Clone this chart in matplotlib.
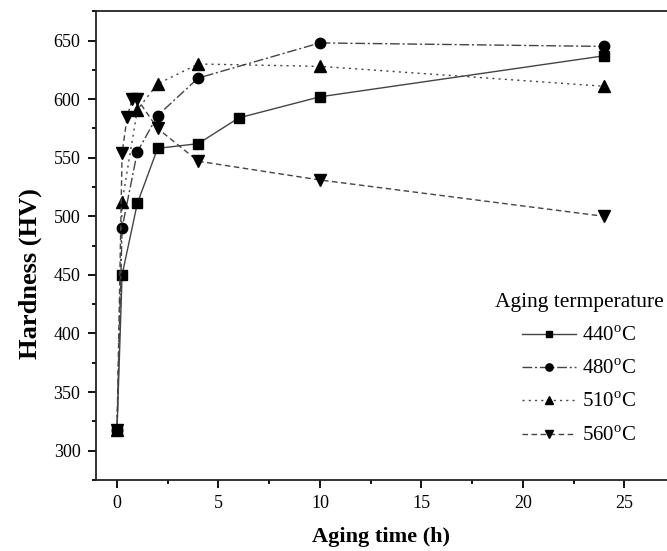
import numpy as np
import matplotlib.pyplot as plt
from matplotlib.ticker import MultipleLocator

plt.rcParams['font.family'] = ['Liberation Serif', 'DejaVu Serif']
plt.rcParams['mathtext.fontset'] = 'custom'
plt.rcParams['mathtext.rm'] = 'Liberation Serif'

# aging time (h) and hardness (HV) for each temperature
t_440 = [0, 0.25, 1, 2, 4, 6, 10, 24]
hv_440 = [318, 450, 511, 558, 562, 584, 602, 637]

t_480 = [0, 0.25, 1, 2, 4, 10, 24]
hv_480 = [318, 490, 555, 586, 618, 648, 645]

t_510 = [0, 0.25, 1, 2, 4, 10, 24]
hv_510 = [318, 512, 591, 613, 630, 628, 611]

t_560 = [0, 0.25, 0.5, 0.75, 1, 2, 4, 10, 24]
hv_560 = [318, 554, 585, 600, 600, 575, 547, 531, 500]

labels = [r'440$^{\rm o}$C', r'480$^{\rm o}$C', r'510$^{\rm o}$C', r'560$^{\rm o}$C']

fig = plt.figure(figsize=(6.67, 5.51), dpi=100)
ax = fig.add_axes([0.1435, 0.129, 0.8565, 0.8516])

lc = '#444444'
ax.plot(t_440, hv_440, linestyle='-', color=lc, lw=1.0, marker='s', ms=7,
        mfc='black', mec='black', label=labels[0])
ax.plot(t_480, hv_480, linestyle=(0, (7, 2, 1.5, 2)), color=lc, lw=1.0, marker='o', ms=7.5,
        mfc='black', mec='black', label=labels[1])
ax.plot(t_510, hv_510, linestyle=(0, (1.5, 3)), color=lc, lw=1.0, marker='^', ms=8,
        mfc='black', mec='black', label=labels[2])
ax.plot(t_560, hv_560, linestyle=(0, (4, 2.5)), color=lc, lw=1.0, marker='v', ms=8,
        mfc='black', mec='black', label=labels[3])

ax.set_xlim(-1.05, 27.1)
ax.set_ylim(275, 675.5)
ax.xaxis.set_major_locator(MultipleLocator(5))
ax.xaxis.set_minor_locator(MultipleLocator(2.5))
ax.yaxis.set_major_locator(MultipleLocator(50))
ax.yaxis.set_minor_locator(MultipleLocator(25))
ax.set_yticks(np.arange(300, 651, 50))
ax.tick_params(which='major', direction='out', length=6, width=1.3, labelsize=13, pad=5)
ax.tick_params(which='minor', direction='out', length=3, width=1.3)
ax.spines['right'].set_visible(False)
for s in ['left', 'bottom', 'top']:
    ax.spines[s].set_linewidth(1.3)
    ax.spines[s].set_color('#222222')

ax.set_xlabel('Aging time (h)', fontsize=16, fontweight='bold', labelpad=11)
ax.set_ylabel('Hardness (HV)', fontsize=19, fontweight='bold')
ax.yaxis.set_label_coords(-0.094, 0.44)

leg = ax.legend(title='Aging termperature', frameon=False, fontsize=15,
                title_fontsize=15.5, handlelength=2.6, markerscale=0.7,
                loc='center', bbox_to_anchor=(0.846, 0.235), labelspacing=0.66,
                handletextpad=0.3)

fig.savefig('out.png', dpi=100)
